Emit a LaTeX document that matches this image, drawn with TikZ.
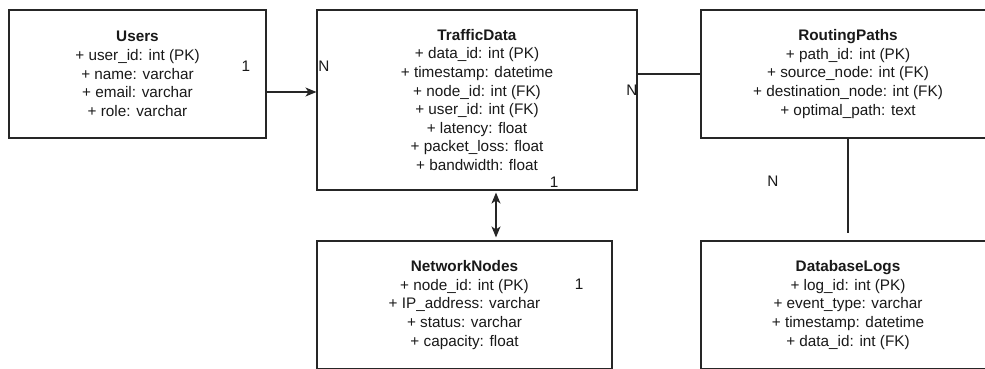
\documentclass[tikz,border=0pt]{standalone}
\usepackage{fontspec}
\setmainfont{Liberation Sans}
\usetikzlibrary{arrows.meta}
\tikzset{
  entity/.style={draw=black!85, line width=1.1pt, rectangle, align=center,
    inner sep=0pt, font=\fontsize{15.3}{18.6}\selectfont, text=black!90,
    execute at begin node={\rule{0pt}{16pt}}},
  card/.style={font=\fontsize{15.3}{18.6}\selectfont, text=black!90, inner sep=0pt},
  link/.style={draw=black!85, line width=1.1pt},
  tip/.style={-{Stealth[length=11pt,width=9pt,inset=3pt]}},
  twotip/.style={{Stealth[length=11pt,width=9pt,inset=3pt]}-{Stealth[length=11pt,width=9pt,inset=3pt]}}
}
\begin{document}
\begin{tikzpicture}[x=1pt,y=-1pt]
\useasboundingbox (0,0) rectangle (985,369);
\clip (0,0) rectangle (985,369);
\fill[white] (0,0) rectangle (985,369);

% entities
\node[entity, minimum width=257pt, minimum height=128pt] (users) at (137.5,74)
  {\textbf{Users}\\+ user\_id: int (PK)\\+ name: varchar\\+ email: varchar\\+ role: varchar};
\node[entity, minimum width=320pt, minimum height=180pt] (traffic) at (477,100)
  {\textbf{TrafficData}\\+ data\_id: int (PK)\\+ timestamp: datetime\\+ node\_id: int (FK)\\+ user\_id: int (FK)\\+ latency: float\\+ packet\_loss: float\\+ bandwidth: float};
\node[entity, minimum width=294pt, minimum height=128pt] (routing) at (848,74)
  {\textbf{RoutingPaths}\\+ path\_id: int (PK)\\+ source\_node: int (FK)\\+ destination\_node: int (FK)\\+ optimal\_path: text};
\node[entity, minimum width=295pt, minimum height=128pt] (nodes) at (464.5,305)
  {\textbf{NetworkNodes}\\+ node\_id: int (PK)\\+ IP\_address: varchar\\+ status: varchar\\+ capacity: float};
\node[entity, minimum width=294pt, minimum height=128pt] (logs) at (848,305)
  {\textbf{DatabaseLogs}\\+ log\_id: int (PK)\\+ event\_type: varchar\\+ timestamp: datetime\\+ data\_id: int (FK)};

% relationships
\draw[link, tip] ([yshift=-18pt]users.east) -- ([yshift=8pt]traffic.west);
\draw[link, twotip, shorten <=2pt, shorten >=3pt] ([xshift=19pt]traffic.south) -- ([xshift=31.5pt]nodes.north);
\draw[link] ([yshift=26pt]traffic.east) -- (routing.west);
\draw[link, shorten >=7pt] (routing.south) -- (logs.north);

% cardinalities
\node[card] (c1) at (246,66) {1};
\node[card] (c2) at (324,66) {N};
\node[card] (c3) at (632,90) {N};
\node[card] (c4) at (554,182) {1};
\node[card] (c5) at (579,284) {1};
\node[card] (c6) at (773,181) {N};
\end{tikzpicture}
\end{document}
